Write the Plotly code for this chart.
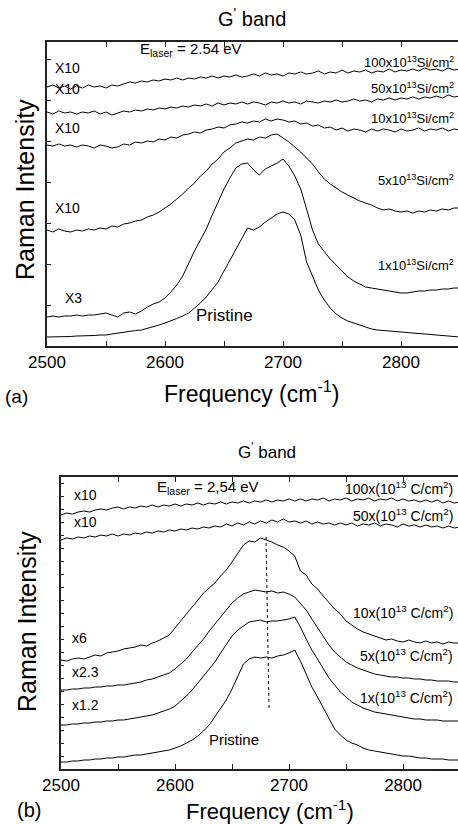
import plotly.graph_objects as go

# Raman shift sampling (cm^-1)
freq = list(range(2500, 2851, 5))

# ---- Panel (a): Si-implanted samples (offset spectra, arbitrary units) ----
a_pristine = [9, 9, 9, 9, 9.5, 10, 10, 10, 10.5, 11,
              11, 12, 13, 14, 14.5, 15.5, 16, 17.5, 19, 21,
              23, 25, 27.5, 30, 33, 38, 43, 49, 56, 64,
              75, 86, 97, 107, 118, 116, 119, 124, 128, 132,
              134, 132, 126, 111, 84, 69, 56, 46, 38, 32,
              28, 25, 23, 21, 19, 17, 16, 15.5, 15, 14,
              13.5, 13, 13, 12, 11.5, 11, 10.5, 10, 9.5, 9,
              9]
a_si1 = [29, 30, 29, 30, 30, 31, 30, 31, 31, 32,
         33, 31, 29, 33, 34, 32, 35, 39, 42, 44,
         48, 54, 61, 70, 83, 95, 106, 117, 131, 144,
         157, 168, 178, 182, 183, 176, 171, 177, 180, 183,
         187, 180, 170, 157, 137, 116, 102, 94, 87, 81,
         75, 69, 65, 62, 59, 58, 57, 56, 55, 54,
         53, 53, 54, 55, 55, 56, 56, 57, 57, 58,
         58]
a_si5 = [116, 114, 117, 115, 114, 116, 115, 117, 116, 118,
         117, 120, 119, 122, 123, 125, 126, 129, 131, 134,
         138, 142, 147, 152, 158, 163, 170, 175, 182, 187,
         194, 198, 203, 205, 207, 206, 209, 208, 211, 212,
         208, 204, 199, 194, 188, 182, 174, 167, 162, 158,
         154, 151, 148, 145, 143, 141, 138, 136, 137, 135,
         134, 135, 133, 135, 134, 136, 135, 137, 136, 138,
         138]
a_si10 = [201, 200, 202, 200, 201, 199, 201, 200, 198, 201,
          200, 198, 199, 202, 201, 204, 203, 205, 204, 207,
          206, 209, 208, 211, 212, 214, 213, 216, 217, 219,
          218, 221, 222, 224, 223, 225, 224, 227, 225, 227,
          226, 224, 225, 222, 223, 220, 221, 218, 219, 216,
          218, 215, 217, 216, 214, 217, 215, 217, 216, 214,
          217, 215, 216, 218, 215, 217, 216, 218, 215, 217,
          216]
a_si50 = [234, 232, 235, 233, 234, 232, 234, 233, 235, 232,
          234, 231, 233, 235, 234, 236, 235, 237, 236, 238,
          237, 239, 238, 240, 239, 241, 240, 242, 240, 243,
          241, 243, 242, 244, 242, 244, 243, 241, 244, 243,
          245, 243, 244, 242, 245, 244, 243, 245, 244, 246,
          244, 245, 247, 245, 246, 244, 247, 246, 248, 246,
          248, 247, 249, 247, 249, 248, 250, 248, 251, 249,
          250]
a_si100 = [259, 261, 258, 260, 257, 260, 258, 261, 259, 260,
           258, 261, 260, 262, 264, 263, 265, 264, 266, 265,
           267, 266, 268, 266, 268, 267, 269, 268, 270, 268,
           270, 269, 271, 269, 270, 272, 270, 273, 271, 272,
           270, 273, 272, 274, 272, 273, 275, 272, 274, 273,
           276, 273, 275, 274, 276, 273, 275, 274, 277, 274,
           276, 275, 277, 275, 278, 276, 277, 275, 278, 276,
           277]

# ---- Panel (b): C-implanted samples ----
b_pristine = [7, 7, 8, 8, 9, 9, 10, 10, 11, 11,
              12, 12, 13, 14, 14, 15, 16, 17, 18, 19,
              21, 23, 26, 29, 33, 38, 44, 52, 60, 69,
              80, 93, 105, 110, 112, 111, 112, 111, 113, 114,
              116, 119, 108, 95, 82, 72, 61, 50, 40, 34,
              29, 26, 24, 21, 19, 18, 17, 16, 15, 14,
              13, 13, 12, 11, 11, 10, 10, 10, 9, 9,
              9]
b_c1 = [44, 44, 45, 45, 46, 46, 47, 47, 48, 48,
        49, 49, 50, 51, 52, 53, 54, 56, 58, 60,
        63, 68, 73, 79, 86, 92, 100, 107, 116, 125,
        133, 139, 143, 147, 148, 149, 147, 148, 148, 149,
        150, 152, 142, 130, 119, 110, 100, 91, 84, 77,
        72, 67, 64, 61, 59, 57, 56, 55, 54, 53,
        52, 51, 50, 50, 49, 49, 49, 48, 48, 48,
        48]
b_c5 = [79, 79, 80, 80, 81, 81, 82, 82, 83, 83,
        84, 84, 85, 86, 87, 89, 90, 92, 94, 96,
        100, 105, 110, 117, 123, 130, 138, 145, 153, 160,
        166, 171, 175, 177, 179, 178, 177, 178, 176, 177,
        175, 172, 166, 159, 150, 141, 132, 124, 117, 112,
        107, 104, 101, 99, 97, 95, 94, 93, 92, 92,
        91, 91, 90, 90, 89, 89, 88, 88, 88, 87,
        87]
b_c10 = [109, 108, 110, 111, 110, 112, 114, 113, 116, 117,
         118, 120, 121, 122, 124, 123, 126, 128, 131, 134,
         141, 148, 155, 163, 169, 176, 181, 186, 193, 199,
         207, 216, 224, 228, 227, 231, 229, 227, 224, 222,
         218, 213, 198, 194, 185, 180, 173, 166, 160, 155,
         148, 144, 140, 137, 135, 133, 131, 129, 130, 128,
         127, 129, 127, 126, 128, 126, 127, 125, 127, 126,
         126]
b_c50 = [229, 231, 230, 232, 231, 233, 232, 234, 233, 235,
         233, 235, 234, 236, 235, 237, 236, 238, 237, 239,
         238, 240, 239, 241, 240, 242, 241, 243, 242, 245,
         243, 246, 244, 247, 245, 248, 246, 249, 247, 250,
         247, 248, 246, 248, 245, 247, 245, 246, 244, 246,
         244, 246, 243, 245, 244, 246, 243, 245, 244, 242,
         245, 243, 244, 242, 244, 242, 243, 241, 243, 241,
         242]
b_c100 = [254, 256, 255, 257, 258, 257, 259, 260, 259, 261,
          262, 260, 262, 261, 263, 262, 264, 262, 264, 263,
          265, 263, 265, 264, 266, 264, 266, 265, 267, 265,
          267, 266, 268, 266, 268, 267, 269, 267, 269, 268,
          270, 268, 270, 268, 270, 269, 271, 268, 270, 269,
          271, 268, 270, 269, 271, 268, 270, 269, 271, 268,
          270, 268, 269, 267, 269, 267, 269, 266, 268, 266,
          267]

# peak-position guide in panel (b)
guide_freq = [2679.8, 2682.5]
guide_int = [232, 58]

x_ticks = list(range(2500, 2851, 50))
x_ticktext = [str(v) if v % 100 == 0 else "" for v in x_ticks]

W, H = 458, 824
FONT = "Liberation Sans, Arial, sans-serif"


def px(x):
    return x / W


def py(y):
    return 1 - y / H


fig = go.Figure()

line = dict(color="black", width=1)
for ys in [a_pristine, a_si1, a_si5, a_si10, a_si50, a_si100]:
    fig.add_trace(go.Scatter(x=freq, y=ys, mode="lines", line=line,
                             xaxis="x", yaxis="y", showlegend=False,
                             hoverinfo="skip"))
for ys in [b_pristine, b_c1, b_c5, b_c10, b_c50, b_c100]:
    fig.add_trace(go.Scatter(x=freq, y=ys, mode="lines", line=line,
                             xaxis="x2", yaxis="y2", showlegend=False,
                             hoverinfo="skip"))
fig.add_trace(go.Scatter(x=guide_freq, y=guide_int, mode="lines",
                         line=dict(color="black", width=1, dash="dot"),
                         xaxis="x2", yaxis="y2", showlegend=False,
                         hoverinfo="skip"))

axis_line = dict(showline=True, linecolor="#222", linewidth=1.5,
                 showgrid=False, zeroline=False, automargin=False)

xa = dict(axis_line, mirror="ticks", ticks="inside", ticklen=5,
          tickcolor="#222", tickwidth=1, tickvals=x_ticks,
          ticktext=x_ticktext,
          tickfont=dict(family=FONT, size=17, color="black"))

fig.update_layout(
    width=W, height=H,
    margin=dict(l=0, r=0, t=0, b=0, autoexpand=False),
    paper_bgcolor="white", plot_bgcolor="white",
    xaxis=dict(xa, domain=[px(47), 1.0], range=[2500, 2848.3],
               anchor="y"),
    yaxis=dict(axis_line, domain=[py(346), py(42)], range=[0, 304],
               anchor="x", ticks="inside", ticklen=4, tickcolor="#222",
               tickvals=[0, 41, 82, 123, 164, 205, 246, 287],
               showticklabels=False),
    xaxis2=dict(xa, domain=[px(61), 1.0], range=[2500, 2848.2],
                anchor="y2"),
    yaxis2=dict(axis_line, domain=[py(769), py(477)], range=[0, 292],
                anchor="x2", ticks="inside", ticklen=3, tickcolor="#222",
                tickvals=list(range(0, 293, 13)), showticklabels=False),
)


def note(text, x, y, size, xanchor="center", angle=0):
    fig.add_annotation(text=text, x=px(x), y=py(y), xref="paper",
                       yref="paper", showarrow=False, xanchor=xanchor,
                       yanchor="middle", textangle=angle,
                       font=dict(family=FONT, size=size, color="black"))


# titles and axis labels
note("G<sup>'</sup> band", 252, 17, 20)
note("G<sup>'</sup> band", 267, 451, 17)
note("Raman Intensity", 25, 190, 25, angle=-90)
note("Raman Intensity", 27, 622, 25, angle=-90)
note("Frequency (cm<sup>-1</sup>)", 251, 392, 23)
note("Frequency (cm<sup>-1</sup>)", 270, 810, 22)
note("(a)", 16, 396, 19)
note("(b)", 29, 810, 20)

# panel (a) labels
note("E<sub>laser</sub> = 2.54 eV", 138, 50, 15, xanchor="left")
note("X10", 53, 68, 14, xanchor="left")
note("X10", 53, 89, 14, xanchor="left")
note("X10", 53, 128, 14, xanchor="left")
note("X10", 53, 208, 14, xanchor="left")
note("X3", 63, 298, 14, xanchor="left")
note("Pristine", 224, 315, 17)
note("100x10<sup>13</sup>Si/cm<sup>2</sup>", 456, 62, 13, xanchor="right")
note("50x10<sup>13</sup>Si/cm<sup>2</sup>", 456, 88, 13, xanchor="right")
note("10x10<sup>13</sup>Si/cm<sup>2</sup>", 456, 118, 13, xanchor="right")
note("5x10<sup>13</sup>Si/cm<sup>2</sup>", 456, 180, 13, xanchor="right")
note("1x10<sup>13</sup>Si/cm<sup>2</sup>", 456, 265, 13, xanchor="right")

# panel (b) labels
note("E<sub>laser</sub> = 2,54 eV", 155, 487, 15, xanchor="left")
note("x10", 72, 495, 14, xanchor="left")
note("x10", 72, 522, 14, xanchor="left")
note("x6", 70, 638, 14, xanchor="left")
note("x2.3", 70, 672, 14, xanchor="left")
note("x1.2", 70, 705, 14, xanchor="left")
note("Pristine", 234, 739, 15)
note("100x(10<sup>13</sup> C/cm<sup>2</sup>)", 455, 488, 14, xanchor="right")
note("50x(10<sup>13</sup> C/cm<sup>2</sup>)", 455, 515, 14, xanchor="right")
note("10x(10<sup>13</sup> C/cm<sup>2</sup>)", 455, 612, 14, xanchor="right")
note("5x(10<sup>13</sup> C/cm<sup>2</sup>)", 455, 655, 14, xanchor="right")
note("1x(10<sup>13</sup> C/cm<sup>2</sup>)", 455, 697, 14, xanchor="right")

fig.write_html("out.html")
